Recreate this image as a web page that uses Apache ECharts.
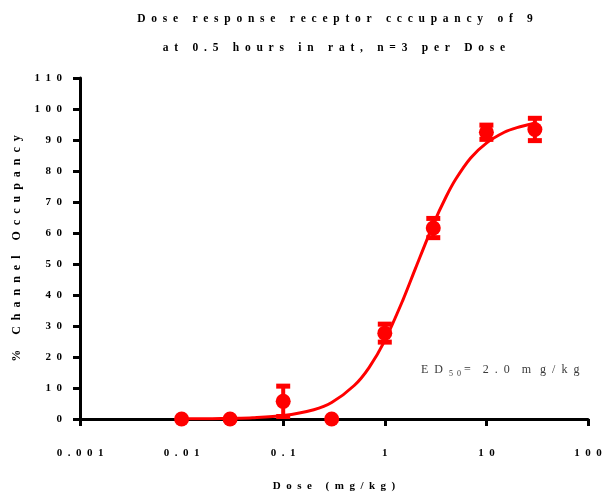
<!DOCTYPE html>
<html>
<head>
<meta charset="utf-8">
<script src="https://cdn.jsdelivr.net/npm/echarts@6/dist/echarts.min.js"></script>
<style>html,body{margin:0;padding:0;background:#fff;}#c{width:603px;height:492px;}</style>
</head>
<body>
<div id="c"></div>
<script>
// ---- data ----
const doses = [0.01, 0.03, 0.1, 0.3, 1, 3, 10, 30];
const occupancy = [0, 0, 5.7, 0, 27.7, 61.6, 92.5, 93.4];
const sem = [0, 0, 4.9, 0, 2.9, 3.1, 2.3, 3.6];
const curveDose = [0.01, 0.02, 0.03, 0.05, 0.1, 0.2, 0.3, 0.5, 0.7, 1, 1.5, 2, 3, 4, 5, 7, 10, 15, 20, 30];
const curveOcc = [0.05, 0.1, 0.2, 0.4, 1.1, 3.0, 5.3, 10.8, 16.6, 25.3, 38.2, 48.5, 62.8, 71.6, 77.4, 84.2, 89.0, 92.5, 94.0, 95.4];
const xTickLabels = ['0.001', '0.01', '0.1', '1', '10', '100'];
const titleLines = ['Dose response receptor cccupancy of 9', 'at 0.5 hours in rat, n=3 per Dose'];
const xName = 'Dose (mg/kg)';
const yName = '% Channel Occupancy';

function sp(s, n) {
  const g = ' '.repeat(n);
  return s.split(' ').map(w => w.split('').join(g)).join(g + ' ' + g);
}
const RED = '#ff0000';
const SERIF = '"Liberation Serif", "Times New Roman", serif';

const chart = echarts.init(document.getElementById('c'), null, {renderer: 'canvas'});
const option = {
  animation: false,
  backgroundColor: '#fff',
  grid: {left: 80, right: 15, top: 78, bottom: 73, containLabel: false, outerBoundsMode: 'none'},
  xAxis: {
    type: 'log', logBase: 10, min: 0.001, max: 100,
    name: sp(xName, 2), nameLocation: 'middle', nameGap: 62,
    nameTextStyle: {fontFamily: SERIF, fontWeight: 'bold', fontSize: 11, color: '#000'},
    axisLine: {show: true, onZero: false, lineStyle: {color: '#000', width: 3}},
    axisTick: {show: true, length: 7, lineStyle: {color: '#000', width: 3}},
    minorTick: {show: false},
    splitLine: {show: false},
    axisLabel: {
      margin: 29, fontFamily: SERIF, fontWeight: 'bold', fontSize: 11, color: '#000',
      formatter: function (v) {
        const i = Math.round(Math.log10(v)) + 3;
        return xTickLabels[i] !== undefined ? sp(xTickLabels[i], 2) : '';
      }
    }
  },
  yAxis: {
    type: 'value', min: 0, max: 110, interval: 10,
    name: sp(yName, 2), nameLocation: 'middle', nameGap: 57,
    nameTextStyle: {fontFamily: SERIF, fontWeight: 'bold', fontSize: 12, color: '#000'},
    axisLine: {show: true, lineStyle: {color: '#000', width: 3}},
    axisTick: {show: true, length: 7, lineStyle: {color: '#000', width: 3}},
    splitLine: {show: false},
    axisLabel: {
      margin: 18, fontFamily: SERIF, fontWeight: 'bold', fontSize: 11, color: '#000',
      formatter: v => sp(String(v), 2)
    }
  },
  graphic: [
    {type: 'text', x: 335, y: 13, style: {text: sp(titleLines[0], 2), textAlign: 'center', fontFamily: SERIF, fontWeight: 'bold', fontSize: 11.5, fill: '#000'}},
    {type: 'text', x: 334, y: 42, style: {text: sp(titleLines[1], 2), textAlign: 'center', fontFamily: SERIF, fontWeight: 'bold', fontSize: 11.5, fill: '#000'}},
    {type: 'text', x: 421, y: 361, style: {
      rich: {
        a: {fontFamily: SERIF, fontSize: 12, fill: '#3a3a3a', color: '#3a3a3a'},
        b: {fontFamily: SERIF, fontSize: 8, fill: '#3a3a3a', color: '#3a3a3a', padding: [9, 0, 0, 0]}
      },
      text: '{a|E  D  }{b|5  0}{a| =    2  .  0    m   g  /  k  g}'
    }}
  ],
  series: [
    {
      type: 'line', data: curveDose.map((d, i) => [d, curveOcc[i]]),
      showSymbol: false, smooth: 0.3, z: 2,
      lineStyle: {color: RED, width: 3}
    },
    {
      type: 'custom', z: 3,
      data: doses.map((d, i) => [d, occupancy[i], sem[i]]),
      renderItem: function (params, api) {
        const e = api.value(2);
        if (!e) return null;
        const x = api.value(0), y = api.value(1);
        const top = api.coord([x, y + e]);
        const bot = api.coord([x, y - e]);
        const hw = 7;
        return {
          type: 'group',
          children: [
            {type: 'line', shape: {x1: top[0], y1: top[1], x2: bot[0], y2: bot[1]}, style: {stroke: RED, lineWidth: 4}},
            {type: 'rect', shape: {x: top[0] - hw, y: top[1] - 2.5, width: 2 * hw, height: 5}, style: {fill: RED}},
            {type: 'rect', shape: {x: bot[0] - hw, y: bot[1] - 2.5, width: 2 * hw, height: 5}, style: {fill: RED}}
          ]
        };
      }
    },
    {
      type: 'scatter', z: 4, symbol: 'circle', symbolSize: 15,
      itemStyle: {color: RED, opacity: 1},
      data: doses.map((d, i) => [d, occupancy[i]])
    }
  ]
};
chart.setOption(option);
</script>
</body>
</html>
